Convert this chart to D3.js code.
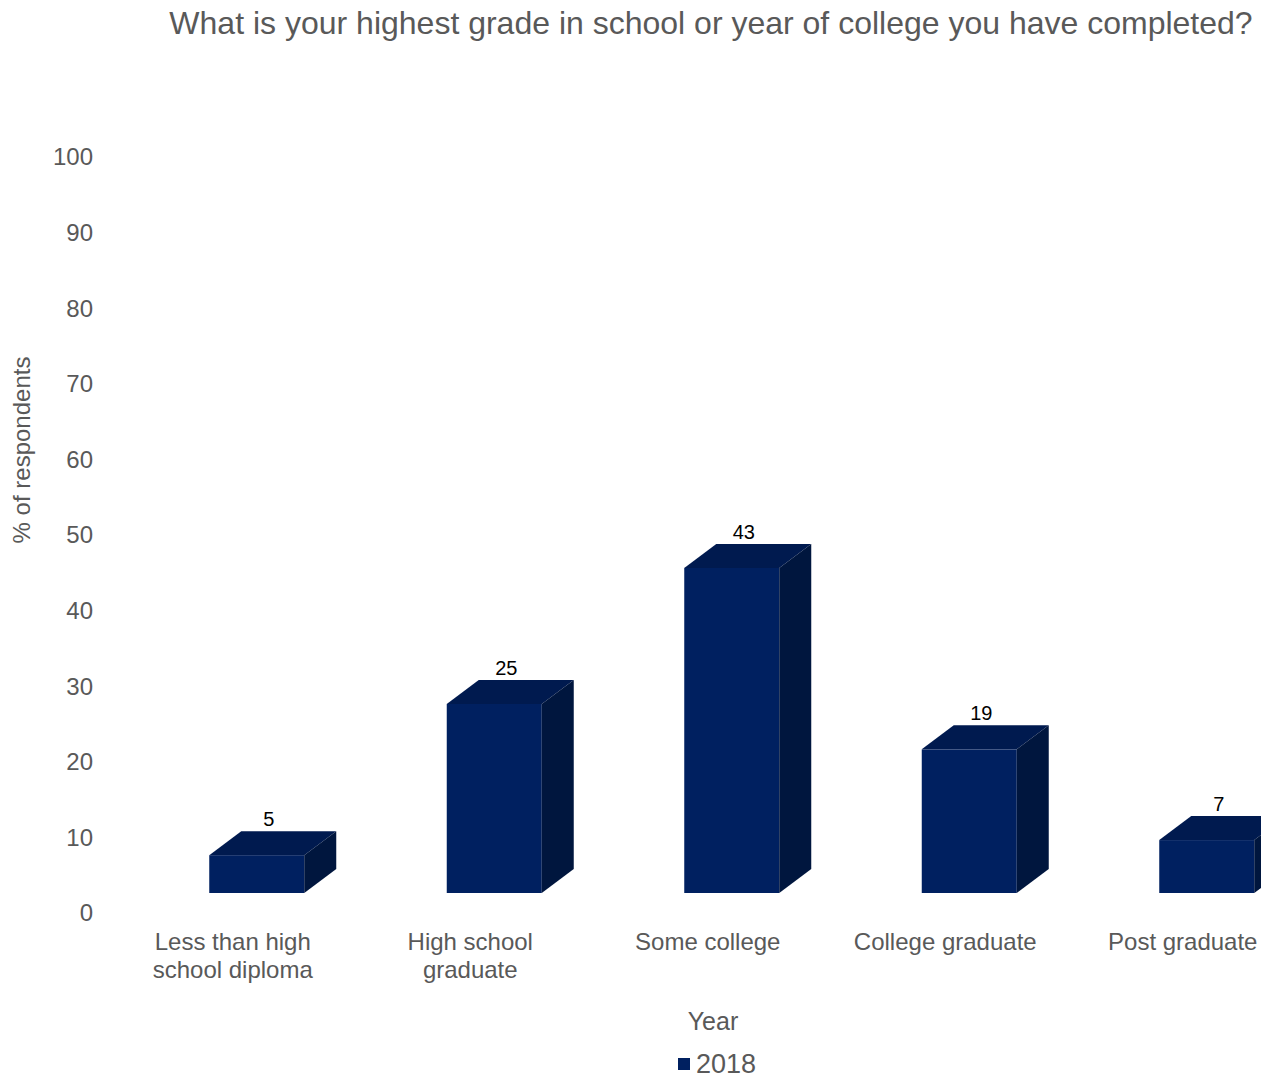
<!DOCTYPE html>
<html>
<head>
<meta charset="utf-8">
<script src="https://cdn.jsdelivr.net/npm/d3@7/dist/d3.min.js"></script>
<style>
  html, body { margin: 0; padding: 0; background: #fff; }
  svg { display: block; font-family: "Liberation Sans", Arial, sans-serif; }
</style>
</head>
<body>
<svg id="chart" width="1261" height="1078"></svg>
<script>
// Survey results: highest completed education level, 2018
const categories = [
  ["Less than high", "school diploma"],
  ["High school", "graduate"],
  ["Some college"],
  ["College graduate"],
  ["Post graduate"]
];
const values2018 = [5, 25, 43, 19, 7];
const yTicks = [0, 10, 20, 30, 40, 50, 60, 70, 80, 90, 100];
const seriesName = "2018";

const W = 1261, H = 1078;
const svg = d3.select("#chart");

const labelColor = "#595959";
const frontColor = "#002060";
const topColor = "#001a4f";
const sideColor = "#00163e";

const x = d3.scaleBand()
  .domain(d3.range(categories.length))
  .range([114, 1301.5])
  .padding(0);

const y = d3.scaleLinear().domain([0, 100]).range([913, 157]);

// 3D projection: floor raised above the axis zero, depth pushed up-right
const floorLift = 20;
const depthX = 32, depthY = -24;
const barW = 95;
const barShift = 24;

// Title
svg.append("text")
  .attr("x", 711).attr("y", 34)
  .attr("text-anchor", "middle")
  .attr("font-size", 32)
  .attr("fill", labelColor)
  .text("What is your highest grade in school or year of college you have completed?");

// Y axis tick labels
svg.append("g").selectAll("text")
  .data(yTicks).join("text")
  .attr("x", 93)
  .attr("y", d => y(d))
  .attr("dy", "0.35em")
  .attr("text-anchor", "end")
  .attr("font-size", 24)
  .attr("fill", labelColor)
  .text(d => d);

// Y axis title
svg.append("text")
  .attr("transform", "translate(30,450) rotate(-90)")
  .attr("text-anchor", "middle")
  .attr("font-size", 24)
  .attr("fill", labelColor)
  .text("% of respondents");

// Bars
const bars = svg.append("g").selectAll("g")
  .data(values2018).join("g");

bars.each(function (v, i) {
  const g = d3.select(this);
  const x0 = x(i) + x.bandwidth() / 2 + barShift - barW / 2;
  const x1 = x0 + barW;
  const yb = y(0) - floorLift;
  const yt = y(v) - floorLift;
  // front face
  g.append("rect")
    .attr("x", x0).attr("y", yt)
    .attr("width", barW).attr("height", yb - yt)
    .attr("fill", frontColor);
  // top face
  g.append("path")
    .attr("d", `M${x0},${yt}L${x0 + depthX},${yt + depthY}L${x1 + depthX},${yt + depthY}L${x1},${yt}Z`)
    .attr("fill", topColor);
  // side face
  g.append("path")
    .attr("d", `M${x1},${yt}L${x1 + depthX},${yt + depthY}L${x1 + depthX},${yb + depthY}L${x1},${yb}Z`)
    .attr("fill", sideColor);
  // value label
  g.append("text")
    .attr("x", x0 + barW / 2 + 12)
    .attr("y", yt + depthY - 5)
    .attr("text-anchor", "middle")
    .attr("font-size", 20)
    .attr("fill", "#000")
    .text(v);
});

// Category labels
const cat = svg.append("g").selectAll("text")
  .data(categories).join("text")
  .attr("text-anchor", "middle")
  .attr("font-size", 24)
  .attr("fill", labelColor)
  .attr("x", (d, i) => x(i) + x.bandwidth() / 2)
  .attr("y", 950);
cat.selectAll("tspan")
  .data(d => d).join("tspan")
  .attr("x", function () { return d3.select(this.parentNode).attr("x"); })
  .attr("dy", (d, j) => j === 0 ? 0 : 28)
  .text(d => d);

// X axis title
svg.append("text")
  .attr("x", 713).attr("y", 1030)
  .attr("text-anchor", "middle")
  .attr("font-size", 25)
  .attr("fill", labelColor)
  .text("Year");

// Legend
svg.append("rect")
  .attr("x", 678).attr("y", 1058)
  .attr("width", 12).attr("height", 12)
  .attr("fill", frontColor);
svg.append("text")
  .attr("x", 696).attr("y", 1064)
  .attr("dy", "0.35em")
  .attr("font-size", 27)
  .attr("fill", labelColor)
  .text(seriesName);
</script>
</body>
</html>
